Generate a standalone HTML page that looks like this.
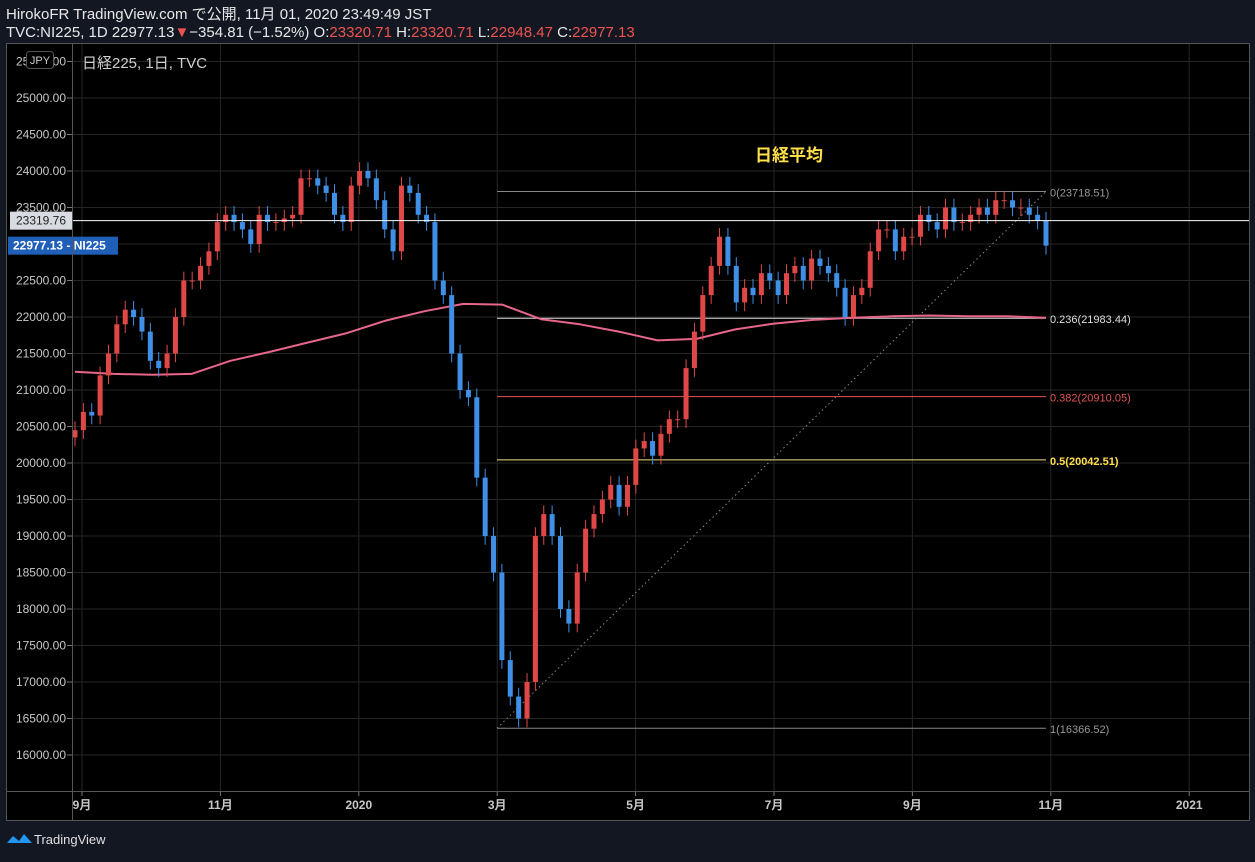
<!DOCTYPE html>
<html><head><meta charset="utf-8">
<style>
html,body{margin:0;padding:0;background:#131722;}
body{width:1255px;height:857px;overflow:hidden;font-family:"Liberation Sans","Noto Sans CJK JP",sans-serif;}
</style></head>
<body>
<svg id="c" width="1255" height="857" xmlns="http://www.w3.org/2000/svg" font-family="Liberation Sans, Noto Sans CJK JP, sans-serif">
<rect x="0" y="0" width="1255" height="857" fill="#131722"/>
<text x="6" y="19" font-size="15" fill="#e8e8e8">HirokoFR TradingView.com で公開, 11月 01, 2020 23:49:49 JST</text>
<text x="6" y="37" font-size="15" fill="#e8e8e8">TVC:NI225, 1D 22977.13<tspan fill="#ef5350">▼</tspan>−354.81 (−1.52%) O:<tspan fill="#ef5350">23320.71</tspan> H:<tspan fill="#ef5350">23320.71</tspan> L:<tspan fill="#ef5350">22948.47</tspan> C:<tspan fill="#ef5350">22977.13</tspan></text>
<rect x="6.5" y="43.5" width="1243" height="777" fill="#000" stroke="#555"/>
<g id="grid"></g>
<g id="yaxis"></g>
<g id="xaxis"></g>
<g id="fib"></g>
<g id="ma"></g>
<g id="candles"></g>
<g id="over"></g>
<line x1="72.5" y1="44" x2="72.5" y2="820" stroke="#555"/>
<line x1="7" y1="791.5" x2="1249" y2="791.5" stroke="#555"/>
<text x="82" y="68" font-size="15" fill="#d0d0d0">日経225, 1日, TVC</text>
<text x="755" y="161" font-size="17" font-weight="bold" fill="#ffe04a">日経平均</text>
<rect x="26.5" y="51.5" width="27" height="17" rx="3" fill="#000" stroke="#555"/>
<text x="40" y="64" font-size="11" fill="#ccc" text-anchor="middle">JPY</text>
<g>
<path d="M7 843 L13 836 L19 841 L24 834 L32 843 Z" fill="#2196f3"/>
<text x="34" y="844" font-size="13" fill="#e0e0e0">TradingView</text>
</g>
</svg>
<script>
const closes=[20450,20700,20650,21200,21500,21900,22100,22000,21800,21400,21300,21500,22000,22500,22500,22700,22900,23300,23400,23300,23200,23000,23400,23300,23300,23350,23400,23900,23900,23800,23700,23400,23300,23800,24000,23900,23600,23200,22900,23800,23700,23400,23300,22500,22300,21500,21000,20900,19800,19000,18500,17300,16800,16500,17000,19000,19300,19000,18000,17800,18500,19100,19300,19500,19700,19400,19700,20200,20300,20100,20400,20600,20600,21300,21800,22300,22700,23100,22700,22200,22400,22300,22600,22500,22300,22600,22700,22500,22800,22700,22600,22400,22000,22300,22400,22900,23200,23200,22900,23100,23100,23400,23300,23200,23500,23300,23300,23400,23500,23400,23600,23600,23500,23500,23400,23320,22977];
const maValues=[21250,21220,21210,21220,21400,21520,21650,21780,21950,22080,22180,22170,21970,21900,21800,21680,21700,21830,21910,21960,21990,22010,22020,22010,22010,21990];
const yTicks=[16000,16500,17000,17500,18000,18500,19000,19500,20000,20500,21000,21500,22000,22500,23000,23500,24000,24500,25000,25500];
const xLabels=["9月","11月","2020","3月","5月","7月","9月","11月","2021"];
const xLabelMonths=[0,2,4,6,8,10,12,14,16];
const fibRatios=["0","0.236","0.382","0.5","1"];
const fibValues=[23718.51,21983.44,20910.05,20042.51,16366.52];
const lastPrice=22977.13, crossPrice=23319.76;

const NS="http://www.w3.org/2000/svg";
function el(tag,attrs,parent,text){const e=document.createElementNS(NS,tag);for(const k in attrs)e.setAttribute(k,attrs[k]);if(text!==undefined)e.textContent=text;document.getElementById(parent).appendChild(e);return e;}
const Y=p=>98+(25000-p)*0.073;
const X0=75,X1=1046;
const X=i=>X0+(X1-X0)*i/(closes.length-1);
const XM=i=>X0+(X1-X0)*i/(maValues.length-1);
const XMon=m=>82+m*69.2;

yTicks.forEach(v=>{
  const y=Y(v);
  const g=el('line',{x1:73,y1:y,x2:1249,y2:y,stroke:'#262626'},'grid');
  
  const t=el('text',{x:66,y:y+4,'font-size':12,fill:'#c8c8c8','text-anchor':'end'},'yaxis',v.toFixed(2));
  
  const tk=el('line',{x1:67,y1:y,x2:72,y2:y,stroke:'#777'},'yaxis');
  
});
xLabels.forEach((l,i)=>{
  const x=XMon(xLabelMonths[i]);
  const g=el('line',{x1:x,y1:44,x2:x,y2:791,stroke:'#262626'},'grid');
  
  const tk=el('line',{x1:x,y1:791,x2:x,y2:796,stroke:'#777'},'xaxis');
  
  const t=el('text',{x:x,y:809,'font-size':12,'font-weight':'bold',fill:'#c8c8c8','text-anchor':'middle'},'xaxis',l);
  
});
const fibColors=['#888','#ddd','#e05555','#f0e080','#888'];
const fibText=['#999','#ddd','#e05555','#ffe04a','#999'];
const fx0=497,fx1=1046;
fibValues.forEach((v,i)=>{
  const y=Y(v);
  const l=el('line',{x1:fx0,y1:y,x2:fx1,y2:y,stroke:fibColors[i],'stroke-width':1},'fib');
  
  const t=el('text',{x:1050,y:y+5,'font-size':11,fill:fibText[i],'font-weight':i==3?'bold':'normal'},'fib',fibRatios[i]+'('+v.toFixed(2)+')');
  
});
const dg=el('line',{x1:fx0,y1:Y(fibValues[4]),x2:fx1,y2:Y(fibValues[0]),stroke:'#888','stroke-dasharray':'1.5 3'},'fib');

let d='';maValues.forEach((v,i)=>{d+=(i?'L':'M')+XM(i).toFixed(1)+' '+Y(v).toFixed(1);});
const ma=el('path',{d:d,fill:'none',stroke:'#e8668a','stroke-width':2,'stroke-linejoin':'round'},'ma');

closes.forEach((c,i)=>{
  const o=i?closes[i-1]:c-100;
  const up=c>=o;
  const col=up?'#e04848':'#3f8fe6';
  const hi=Math.max(o,c)+120, lo=Math.min(o,c)-120;
  const x=X(i);
  const w=el('line',{x1:x,y1:Y(hi),x2:x,y2:Y(lo),stroke:col,'stroke-width':1},'candles');
  
  const top=Y(Math.max(o,c)),h=Math.max(1,Y(Math.min(o,c))-top);
  const b=el('rect',{x:x-2.5,y:top,width:5,height:h,fill:col},'candles');
  
});
const cy=Y(crossPrice);
const cl=el('line',{x1:10,y1:cy,x2:1249,y2:cy,stroke:'#fff','stroke-width':1},'over');

const cb=el('rect',{x:10,y:cy-9,width:62,height:18,fill:'#d8dbe2'},'over');

const ct=el('text',{x:41,y:cy+4,'font-size':12,fill:'#222','text-anchor':'middle'},'over',crossPrice.toFixed(2));

const ly=Y(lastPrice);
const lb=el('rect',{x:8,y:ly-9,width:110,height:18,fill:'#1f5fb8'},'over');

const lt=el('text',{x:13,y:ly+4,'font-size':12,'font-weight':'bold',fill:'#fff'},'over',lastPrice.toFixed(2)+' - NI225');

</script>
</body></html>
